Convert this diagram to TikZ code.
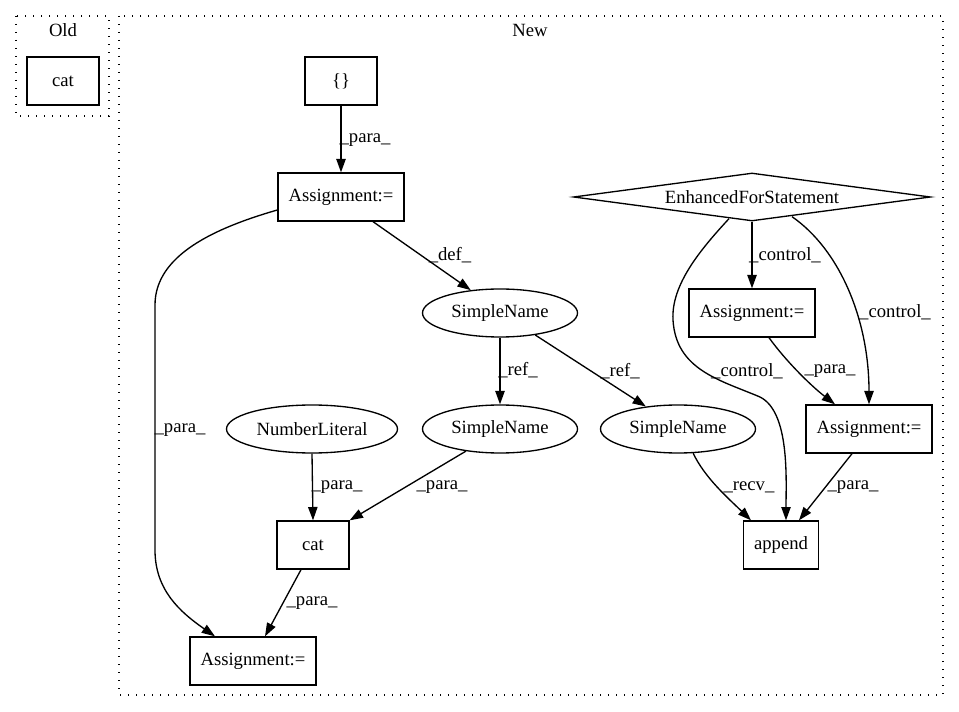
\documentclass[tikz,border=0pt]{standalone}
\usepackage{fontspec}
\setmainfont{Liberation Serif}
\usetikzlibrary{arrows.meta,shapes.geometric,calc}
\begin{document}
\begin{tikzpicture}[x=0.75pt,y=-0.75pt,
  every node/.style={font=\fontsize{14pt}{16pt}\selectfont},
  box/.style={draw,line width=1pt,rectangle,inner sep=0pt,minimum height=36pt},
  ell/.style={draw,line width=1pt,ellipse,inner sep=0pt,minimum height=36pt},
  dia/.style={draw,line width=1pt,diamond,aspect=7.44,inner sep=0pt,minimum width=267.75pt,minimum height=36pt},
  cluster/.style={draw,line width=1pt,dash pattern=on 1pt off 5pt},
  edge/.style={draw,line width=1pt,-{Triangle[length=10pt,width=7pt]}},
  lbl/.style={inner sep=0pt}]
\useasboundingbox (0,0) rectangle (959,712);
% clusters
\draw[cluster] (16,16) rectangle (109,116);
\draw[cluster] (119,16) rectangle (943,695);
\node[lbl] (oldlbl) at (63,30) {Old};
\node[lbl] (newlbl) at (530,30) {New};
% nodes
\node[box,minimum width=54pt] (oldcat) at (63,81) {cat};
\node[box,minimum width=54pt] (brace) at (341,81) {\{\}};
\node[box,minimum width=94.5pt] (at1) at (341,197) {Assignment:=};
\node[dia] (efs) at (752,197) {EnhancedForStatement};
\node[ell,minimum width=116.25pt] (sn1) at (500,313) {SimpleName};
\node[box,minimum width=94.5pt] (at2) at (752,313) {Assignment:=};
\node[ell,minimum width=128.25pt] (nl) at (312,429) {NumberLiteral};
\node[ell,minimum width=116.25pt] (sn2) at (500,429) {SimpleName};
\node[ell,minimum width=116.25pt] (sn3) at (678,429) {SimpleName};
\node[box,minimum width=94.5pt] (at3) at (869,429) {Assignment:=};
\node[box,minimum width=54pt] (cat) at (313,545) {cat};
\node[box,minimum width=56.25pt] (app) at (781,545) {append};
\node[box,minimum width=94.5pt] (at4) at (253,661) {Assignment:=};
% edges
\draw[edge] (brace.south) -- (at1.north);
\node[lbl] at (365,140) {\_para\_};
\draw[edge] ($(at1.south)+(32,0)$) -- (sn1.142);
\node[lbl] at (450,255) {\_def\_};
\draw[edge] ($(at1.west)+(0,13)$) .. controls (215,228) and (155,255) .. (155,305) -- (155,550) .. controls (155,590) and (180,612) .. ($(at4.north)+(-38,0)$);
\node[lbl] at (180,430) {\_para\_};
\draw[edge] (sn1.south) -- (sn2.north);
\node[lbl] at (518,370) {\_ref\_};
\draw[edge] (sn1.-32) -- (sn3.145);
\node[lbl] at (620,371) {\_ref\_};
\draw[edge] (nl.south) -- (cat.north);
\node[lbl] at (337,487) {\_para\_};
\draw[edge] (sn2.-147) -- (cat.north east);
\node[lbl] at (442,487) {\_para\_};
\draw[edge] ($(cat.south)+(-12,0)$) -- ($(at4.north)+(12,0)$);
\node[lbl] at (312,603) {\_para\_};
\draw[edge] (efs.south) -- (at2.north);
\node[lbl] at (785,255) {\_control\_};
\draw[edge] ($(efs.south)+(40,-5)$) .. controls (840,250) and (869,320) .. (at3.north);
\node[lbl] at (895,312) {\_control\_};
\draw[edge] ($(efs.south)+(-23,-3)$) .. controls (700,250) and (671,285) .. (673,320) .. controls (676,370) and (720,380) .. (760,397) .. controls (790,412) and (786,480) .. ($(app.north)+(5,0)$);
\node[lbl] at (747,371) {\_control\_};
\draw[edge] ($(at2.south)+(17,0)$) .. controls (785,360) and (810,385) .. ($(at3.north)+(-34,0)$);
\node[lbl] at (830,371) {\_para\_};
\draw[edge] (sn3.-58) .. controls (705,478) and (728,498) .. ($(app.north)+(-30,0)$);
\node[lbl] at (749,487) {\_recv\_};
\draw[edge] ($(at3.south)+(-17,0)$) -- ($(app.north)+(18,0)$);
\node[lbl] at (853,487) {\_para\_};
\end{tikzpicture}
\end{document}
